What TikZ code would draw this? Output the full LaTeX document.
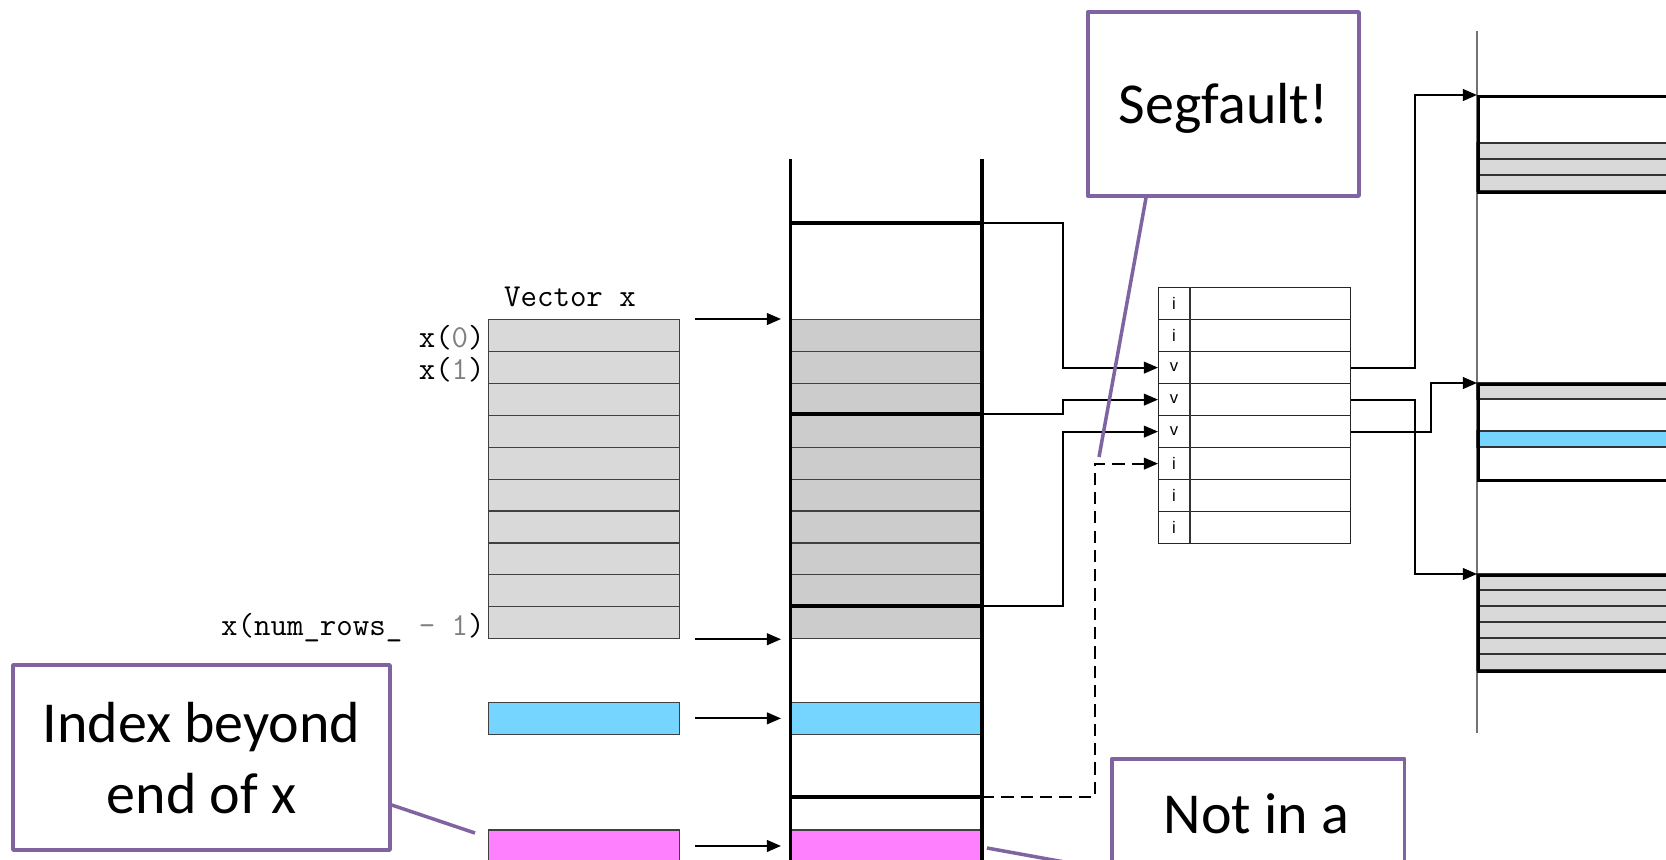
\documentclass[tikz,border=0pt]{standalone}
\usepackage{fontspec}
\newfontfamily\callfont{Carlito}
\newfontfamily\tabfont{Liberation Sans}
\usetikzlibrary{arrows.meta}
\definecolor{callpurple}{HTML}{8064A2}
\definecolor{vgray}{HTML}{D9D9D9}
\definecolor{sgray}{HTML}{CCCCCC}
\definecolor{cyanc}{HTML}{75D5FF}
\definecolor{magc}{HTML}{FF80FF}
\definecolor{digitgray}{HTML}{808080}
\begin{document}
\begin{tikzpicture}[x=0.02cm,y=-0.02cm,
  thinln/.style={line width=0.7pt, draw=black!80},
  thickln/.style={line width=1.8pt, draw=black},
  vcell/.style={draw=black!75, line width=0.7pt, fill=vgray, minimum width=3.82cm, minimum height=0.638cm, inner sep=0pt, anchor=north west},
  scell/.style={draw=black!75, line width=0.7pt, fill=sgray, minimum width=3.83cm, minimum height=0.638cm, inner sep=0pt, anchor=north west},
  tcell/.style={draw=black!85, line width=0.7pt, minimum width=3.84cm, minimum height=0.64cm, inner sep=0pt, anchor=north west},
  rbox/.style={draw=black, line width=1.8pt, minimum width=5cm, minimum height=1.92cm, inner sep=0pt, anchor=north west},
  conn/.style={line width=1.2pt, -{Triangle[length=8pt,width=6.6pt]}},
  callout/.style={draw=callpurple, line width=2pt, fill=white, line join=round, inner sep=0pt},
  pointer/.style={draw=callpurple, line width=2pt},
  ttlab/.style={font=\fontsize{18.2}{21}\selectfont\ttfamily, inner sep=0pt},
  calltext/.style={font=\fontsize{33}{40}\selectfont\callfont, inner sep=0pt},
  letter/.style={font=\fontsize{9.5}{11}\selectfont\tabfont, inner sep=0pt}
]
\useasboundingbox (0,0) rectangle (1666,859);
\begin{scope}
\clip (0,0) rectangle (1666,859);

% ---------- Vector x ----------
\foreach \i in {0,...,9} \node[vcell] (v\i) at (488,{319+31.9*\i}) {};
\node[vcell, fill=cyanc] (vcy) at (488,701.8) {};
\node[vcell, fill=magc] (vmg) at (488,829.4) {};
\node[ttlab, anchor=base] (vlab) at (570,306) {Vector x};
\node[ttlab, anchor=base east] (l0) at (485,347) {x(\textcolor{digitgray}{0})};
\node[ttlab, anchor=base east] (l1) at (485,379) {x(\textcolor{digitgray}{1})};
\node[ttlab, anchor=base east] (l9) at (485,635) {x(num\_rows\_ \textcolor{digitgray}{- 1})};

% ---------- stack ----------
\foreach \i in {0,...,9} \node[scell] (s\i) at (790.5,{319+31.9*\i}) {};
\node[scell, fill=cyanc] (scy) at (790.5,701.8) {};
\node[scell, fill=magc] (smg) at (790.5,829.4) {};
\draw[thickln] (790.5,223) -- (982,223) coordinate (sA);
\draw[thickln] (790.5,414) -- (982,414) coordinate (sB);
\draw[thickln] (790.5,606) -- (982,606) coordinate (sC);
\draw[thickln] (790.5,797) -- (982,797) coordinate (sD);
\draw[thickln] (790.5,159) -- (790.5,880);
\draw[thickln] (982,159) -- (982,880);

% arrows vector -> stack
\draw[conn] ([xshift=0.3cm]v0.north east) -- ([xshift=-0.19cm]s0.north west);
\draw[conn] ([xshift=0.3cm]v9.south east) -- ([xshift=-0.19cm]s9.south west);
\draw[conn] ([xshift=0.3cm]vcy.east) -- ([xshift=-0.19cm]scy.west);
\draw[conn] ([xshift=0.3cm]vmg.east) -- ([xshift=-0.19cm]smg.west);

% ---------- table ----------
\foreach \i/\l in {1/i,2/i,3/v,4/v,5/v,6/i,7/i,8/i} {
  \node[tcell] (t\i) at (1158,{287+32*(\i-1)}) {};
  \node[letter] (tl\i) at (1174,{303+32*(\i-1)}) {\l};
}
\draw[thinln] (1190,287) -- (1190,543);

% ---------- right side ----------
\draw[line width=0.8pt, draw=black!55] (1477,31) -- (1477,733);
\foreach \y in {143,159,175} \draw[thinln, fill=vgray] (1477,\y) rectangle (1720,\y+16);
\draw[thinln, fill=vgray] (1477,383) rectangle (1720,399);
\draw[thinln, fill=cyanc] (1477,431) rectangle (1720,447);
\foreach \k in {0,...,5} \draw[thinln, fill=vgray] (1477,{574+16*\k}) rectangle (1720,{590+16*\k});
\node[rbox] (rb1) at (1477,95) {};
\node[rbox] (rb2) at (1477,383) {};
\node[rbox] (rb3) at (1477,574) {};

% ---------- connectors ----------
\draw[conn] (sA) -- ++(81,0) |- (t3.west);
\draw[conn] (sB) -- ++(81,0) |- (t4.west);
\draw[conn] (sC) -- ++(81,0) |- (t5.west);
\draw[conn, dashed, dash pattern=on 7pt off 4pt] (sD) -- ++(113,0) |- (t6.west);
\draw[conn] (t3.east) -- ++(64,0) |- (rb1.north west);
\draw[conn] (t4.east) -- ++(64,0) |- (rb3.north west);
\draw[conn] (t5.east) -- ++(80,0) |- (rb2.north west);

% ---------- callouts ----------
\coordinate (segtip) at (1099,457);
\node[callout, minimum width=5.42cm, minimum height=3.68cm] (seg) at (1223.5,104) {};
\draw[pointer] ([xshift=-1.55cm]seg.south) -- (segtip);
\node[calltext, anchor=base] (segt) at (1223.5,123) {Segfault!};

\coordinate (idxtip) at (475,833);
\node[callout, minimum width=7.54cm, minimum height=3.7cm] (idx) at (201.5,757.5) {};
\draw[pointer] ([yshift=-0.95cm]idx.east) -- (idxtip);
\node[calltext, anchor=base] (idxt1) at (201.5,742) {Index beyond};
\node[calltext, anchor=base] (idxt2) at (201.5,813) {end of x};

\coordinate (niatip) at (987,848);
\node[callout, minimum width=5.86cm, minimum height=3.7cm, anchor=north west] (nia) at (1110,757) {};
\draw[pointer] (niatip) -- ([yshift=-0.38cm]nia.west);
\node[calltext, anchor=base] (niat) at (1256.5,833) {Not in a};
\end{scope}
\end{tikzpicture}
\end{document}
